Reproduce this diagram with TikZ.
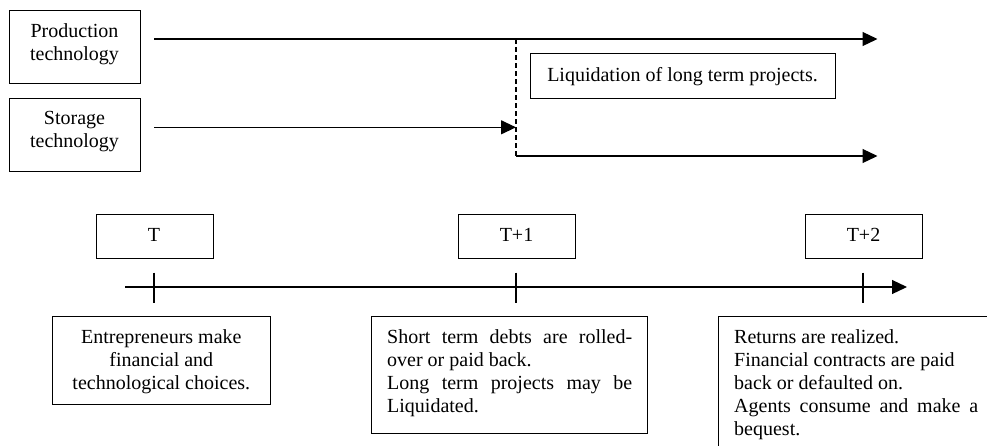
\documentclass[tikz,border=0pt]{standalone}
\usepackage{fontspec}
\setmainfont{Liberation Serif}
\usetikzlibrary{arrows.meta}
\begin{document}
\begin{tikzpicture}[x=1pt,y=-1pt,
  every node/.style={inner sep=0pt, font=\fontsize{20}{23}\selectfont},
  boxnode/.style={draw, line width=1.2pt, anchor=north west},
  txt/.style={anchor=base},
  txtl/.style={anchor=base west, align=left},
  line/.style={line width=1.2pt},
  arr/.style={line width=1.2pt, -{Triangle[length=15pt,width=14pt]}},
  dashline/.style={line width=1.2pt, dash pattern=on 5pt off 3pt}
]
\useasboundingbox (0,0) rectangle (987,445);
\clip (0,0) rectangle (987,445);

% boxes
\node[boxnode, minimum width=131pt, minimum height=73pt] (prod) at (9,10) {};
\node[boxnode, minimum width=131pt, minimum height=73pt] (stor) at (9,98) {};
\node[boxnode, minimum width=305pt, minimum height=45pt] (liq) at (530,53) {};
\node[boxnode, minimum width=116.5pt, minimum height=43.5pt] (bT) at (96,214) {};
\node[boxnode, minimum width=116.5pt, minimum height=43.5pt] (bT1) at (458,214) {};
\node[boxnode, minimum width=116.5pt, minimum height=43.5pt] (bT2) at (805,214) {};
\node[boxnode, minimum width=218pt, minimum height=88pt] (ent) at (52,316) {};
\node[boxnode, minimum width=276pt, minimum height=117pt] (sht) at (371,316) {};
\node[boxnode, minimum width=290pt, minimum height=150pt] (ret) at (718,316) {};

% texts
\node[txt] (tprod1) at (74.5,37) {Production};
\node[txt] (tprod2) at (74.5,60) {technology};
\node[txt] (tstor1) at (74.5,124) {Storage};
\node[txt] (tstor2) at (74.5,147) {technology};
\node[txt] (tliq) at (682.5,81) {Liquidation of long term projects.};
\node[txt] (tT) at (154,241) {T};
\node[txt] (tT1) at (516.5,241) {T+1};
\node[txt] (tT2) at (863.5,241) {T+2};
\node[txt] (tent1) at (161.3,343) {Entrepreneurs make};
\node[txt] (tent2) at (161.3,366) {financial and};
\node[txt] (tent3) at (161.3,389) {technological choices.};
\node[txtl] (tsht1) at (387,343) {\makebox[245pt][s]{Short term debts are rolled-}};
\node[txtl] (tsht2) at (387,366) {over or paid back.};
\node[txtl] (tsht3) at (387,389) {\makebox[245pt][s]{Long term projects may be}};
\node[txtl] (tsht4) at (387,412) {Liquidated.};
\node[txtl] (tret1) at (734,343) {Returns are realized.};
\node[txtl] (tret2) at (734,366) {Financial contracts are paid};
\node[txtl] (tret3) at (734,389) {back or defaulted on.};
\node[txtl] (tret4) at (734,412) {\makebox[244pt][s]{Agents consume and make a}};
\node[txtl] (tret5) at (734,435) {bequest.};

% top arrows
\coordinate (p0) at (154,39);
\coordinate (p1) at (877.5,39);
\coordinate (s0) at (154,127.3);
\coordinate (s1) at (516,127.3);
\coordinate (d0) at (516,39);
\coordinate (d1) at (516,156);
\coordinate (l1) at (877.5,156);
\draw[arr] (p0) -- (p1);
\draw[arr] (s0) -- (s1);
\draw[dashline] (d0) -- (d1);
\draw[arr] (d1) -- (l1);

% timeline
\coordinate (t0) at (125,287);
\coordinate (t1) at (907,287);
\draw[arr] (t0) -- (t1);
\coordinate (k0a) at (154,272.5);
\coordinate (k0b) at (154,302.5);
\coordinate (k1a) at (516,272.5);
\coordinate (k1b) at (516,302.5);
\coordinate (k2a) at (863,272.5);
\coordinate (k2b) at (863,302.5);
\draw[line] (k0a) -- (k0b);
\draw[line] (k1a) -- (k1b);
\draw[line] (k2a) -- (k2b);
\end{tikzpicture}
\end{document}
